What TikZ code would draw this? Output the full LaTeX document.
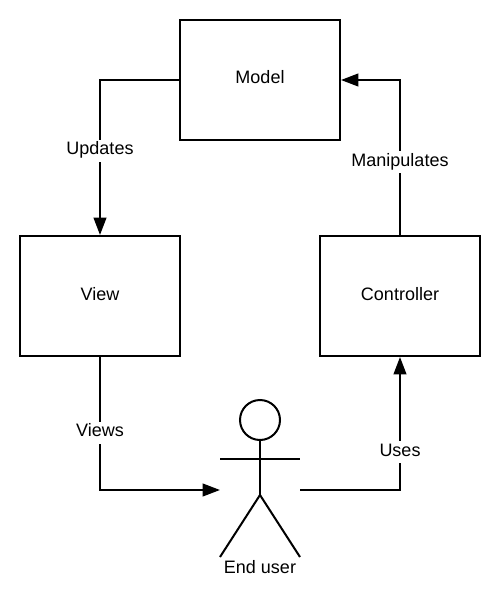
\documentclass[tikz,border=0pt]{standalone}
\usepackage{fontspec}
\setmainfont{Liberation Sans}
\usetikzlibrary{arrows.meta, positioning}
\tikzset{
  textbox/.style={text height=11.25pt, text depth=5.25pt, font=\fontsize{13.5pt}{15pt}\selectfont},
  block/.style={draw, rectangle, minimum width=160*0.75pt, minimum height=120*0.75pt, line width=1.5pt, textbox},
  arrow/.style={-{Triangle[length=13pt, width=9.5pt]}, line width=1.5pt},
  flowlabel/.style={fill=white, inner ysep=0pt, inner xsep=1pt, textbox},
  limb/.style={line width=1.5pt},
}
\begin{document}
\begin{tikzpicture}[x=0.75pt, y=-0.75pt]
  \useasboundingbox (0,0) rectangle (496,592);
  \node (model) [block] at (260,80) {Model};
  \node (view) [block] at (100,296) {View};
  \node (ctrl) [block] at (400,296) {Controller};

  % end user figure
  \node (head) [circle, draw, line width=1.5pt, minimum size=30pt, inner sep=0pt] at (260,420) {};
  \coordinate (hip) at (260,495);
  \coordinate (armL) at (220,459);
  \coordinate (armR) at (300,459);
  \coordinate (footL) at (220,557);
  \coordinate (footR) at (300,557);
  \coordinate (userL) at (220,490);
  \coordinate (userR) at (300,490);
  \draw[limb] (head) -- (hip);
  \draw[limb] (armL) -- (armR);
  \draw[limb] (footL) -- (hip) -- (footR);
  \node (user) [flowlabel, fill=none] at (260,569) {End user};

  \draw[arrow] (model.west) -| node[flowlabel, pos=0.7275] (upd) {Updates} (view.north);
  \draw[arrow] (view.south) |- node[flowlabel, pos=0.285] (vws) {Views} (userL);
  \draw[arrow] (userR) -| node[flowlabel, pos=0.642] (use) {Uses} (ctrl.south);
  \draw[arrow] (ctrl.north) |- node[flowlabel, pos=0.235] (man) {Manipulates} (model.east);
\end{tikzpicture}
\end{document}
